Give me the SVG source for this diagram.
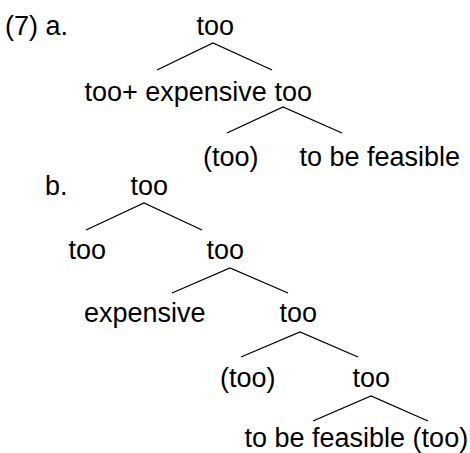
<svg xmlns="http://www.w3.org/2000/svg" width="470" height="453" viewBox="0 0 470 453">
<style>
text{font-family:"Liberation Sans",Arial,sans-serif;font-size:27px;fill:#000}
.e{stroke:#000;stroke-width:1.3;fill:none}
</style>
<rect width="470" height="453" fill="#fff"/>
<g id="connectors">
<polyline class="e" points="157,70 213,43 272,70"/>
<polyline class="e" points="227,133 283,107 342,133"/>
<polyline class="e" points="86,230 144,203 202,230"/>
<polyline class="e" points="172,293 230,268 288,293"/>
<polyline class="e" points="241,357 300,332 358,357"/>
<polyline class="e" points="313,421 371,396 428,421"/>
</g>
<g id="label-a"><text x="5" y="35">(7) a.</text></g>
<g id="a-root"><text x="196.5" y="35">too</text></g>
<g id="a-mid"><text x="84.5" y="101">too+ expensive too</text></g>
<g id="a-too"><text x="203" y="166">(too)</text></g>
<g id="a-feasible"><text x="299.5" y="166">to be feasible</text></g>
<g id="label-b"><text x="45" y="195">b.</text></g>
<g id="b-root"><text x="130.5" y="195">too</text></g>
<g id="b-too1"><text x="68.5" y="259">too</text></g>
<g id="b-too2"><text x="206.5" y="259">too</text></g>
<g id="b-expensive"><text x="84" y="322">expensive</text></g>
<g id="b-too3"><text x="279.5" y="322">too</text></g>
<g id="b-too4"><text x="220" y="387">(too)</text></g>
<g id="b-too5"><text x="352.5" y="387">too</text></g>
<g id="b-feasible"><text x="244.5" y="447">to be feasible (too)</text></g>
</svg>
